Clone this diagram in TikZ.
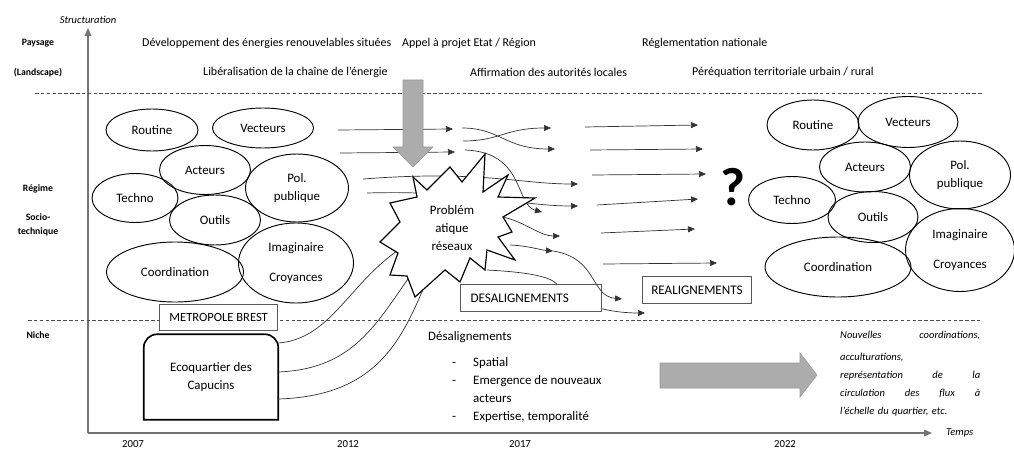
\documentclass[tikz,border=0pt]{standalone}
\usepackage{fontspec}
\setmainfont{Carlito}
\usetikzlibrary{arrows.meta,positioning,shapes.geometric}

\newcommand{\listdash}{\hspace*{0.72cm}\makebox[0.63cm][l]{-}}

\begin{document}
\begin{tikzpicture}[
  x=0.03cm, y=-0.03cm,
  font=\fontsize{11}{16}\selectfont,
  ell/.style 2 args={
    ellipse,
    draw=black,
    line width=0.8pt,
    inner sep=0pt,
    align=center,
    minimum width=#1*0.03cm,
    minimum height=#2*0.03cm
  },
  layer/.style={font=\fontsize{8.3}{12}\selectfont\bfseries, align=center},
  pressure/.style={font=\fontsize{10.2}{12}\selectfont, anchor=west, inner sep=0pt},
  year/.style={font=\fontsize{9.2}{11}\selectfont, inner sep=1pt},
  axislbl/.style={font=\fontsize{9}{11}\selectfont\itshape},
  framed/.style={
    draw=black!65,
    line width=0.7pt,
    fill=white,
    minimum height=0.8cm,
    inner xsep=0.3cm,
    font=\fontsize{11.2}{13}\selectfont
  },
  flow/.style={draw=black!80, line width=0.6pt, -{Triangle[length=2.1mm, width=1.8mm]}},
  link/.style={draw=black!80, line width=0.6pt},
  sep/.style={draw=black!70, line width=0.6pt, dash pattern=on 3pt off 2pt},
  axis/.style={draw=black!55, line width=1pt, -{Triangle[length=2.4mm, width=2mm]}},
  bigarrow/.style={fill=gray!65, draw=gray!80, line width=0.5pt},
  burst/.style={draw=black, line width=1pt, fill=white, line join=miter}
]

\useasboundingbox (0,0) rectangle (1014,452);

% axes
\coordinate (origin) at (88,433);
\coordinate (ytip) at (88,28);
\coordinate (xtip) at (932,433);
\draw[axis] (origin) -- (ytip);
\draw[axis] (origin) -- (xtip);
\node[axislbl, above=0pt of ytip] (ylabel) {Structuration};
\node[axislbl, right=0.3cm of xtip] (xlabel) {Temps};

% levels
\draw[sep] (35,93) -- (982,93);
\draw[sep] (28,320) -- (980,320);

\node[layer] (paysage) at (38,43) {Paysage};
\node[layer] (landscape) at (38,73) {(Landscape)};
\node[layer] (regime) at (38,189) {Régime};
\node[layer] (socio) at (38,225) {Socio-\\technique};
\node[layer] (niche) at (38,335) {Niche};

\node[year] (y2007) at (133,444) {2007};
\node[year] (y2012) at (348,444) {2012};
\node[year] (y2017) at (520,444) {2017};
\node[year] (y2022) at (785,444) {2022};

% landscape
\node[pressure] (enr) at (142,43) {Développement des énergies renouvelables situées};
\node[pressure] (appel) at (402,43) {Appel à projet Etat / Région};
\node[pressure] (regl) at (642,43) {Réglementation nationale};
\node[pressure] (liberal) at (203,72) {Libéralisation de la chaîne de l’énergie};
\node[pressure] (affirm) at (470,72) {Affirmation des autorités locales};
\node[pressure] (perequ) at (692,72) {Péréquation territoriale urbain / rural};

% regime before
\node[ell={92}{42}] (routineL) at (152,130) {Routine};
\node[ell={101}{40}] (vecteursL) at (263,128) {Vecteurs};
\node[ell={91}{49}] (acteursL) at (205,170) {Acteurs};
\node[ell={103}{68}] (polL) at (297,188) {Pol.\\publique};
\node[ell={86}{49}] (technoL) at (135,198) {Techno};
\node[ell={91}{50}] (outilsL) at (215,220) {Outils};
\node[ell={137}{60}] (coordL) at (175,272) {Coordination};
\node[ell={115}{80}] (imagL) at (296,263) {Imaginaire\\[10pt]Croyances};

% regime after
\node[ell={92}{50}] (routineR) at (813,125) {Routine};
\node[ell={100}{51}] (vecteursR) at (908,122) {Vecteurs};
\node[ell={91}{50}] (acteursR) at (865,167) {Acteurs};
\node[ell={101}{68}] (polR) at (960,175) {Pol.\\publique};
\node[ell={87}{47}] (technoR) at (792,200) {Techno};
\node[ell={90}{51}] (outilsR) at (873,217) {Outils};
\node[ell={109}{83}] (imagR) at (960,250) {Imaginaire\\[10pt]Croyances};
\node[ell={146}{60}] (coordR) at (838,267) {Coordination};

\node[font=\fontsize{46}{46}\selectfont\bfseries] (qmark) at (733,187) {?};

% niche
\node[align=center, inner sep=0pt, minimum width=134*0.03cm, minimum height=85*0.03cm] (eco) at (211,377) {Ecoquartier des\\Capucins};
\draw[line width=1.4pt] (eco.south west) -- ([yshift=-0.4cm]eco.north west)
  arc[start angle=180, end angle=90, radius=0.4cm] -- ([xshift=-0.4cm]eco.north east)
  arc[start angle=90, end angle=0, radius=0.4cm] -- (eco.south east) -- cycle;
\node[framed, anchor=south east, font=\fontsize{10.7}{12}\selectfont] (metro) at ([yshift=0.09cm]eco.north east) {METROPOLE BREST};

\node[anchor=north west, inner sep=0pt, align=left, font=\fontsize{11}{15.3}\selectfont] (desallist) at (428,331) {Désalignements\\[7pt]
  \listdash Spatial\\
  \listdash Emergence de nouveaux\\
  \hspace*{1.35cm}acteurs\\
  \listdash Expertise, temporalité};

\node[anchor=north west, inner sep=0pt, text width=4.2cm, align=left, font=\fontsize{9}{15.5}\selectfont\itshape] (outcome) at (840,331) {Nouvelles\hfill coordinations,\\[3pt]
  acculturations,\\
  représentation\hfill de\hfill la\\
  circulation\hfill des\hfill flux\hfill à\\
  l’échelle du quartier, etc.};

\fill[bigarrow] (660,363) -- (800,363) -- (800,353) -- (817,375) -- (800,397) -- (800,388) -- (660,388) -- cycle;

% flows towards the problem
\coordinate (hub) at (452,226);
\draw[link] ([yshift=1.02cm]eco.east) .. controls (345,338) and (355,250) .. (hub);
\draw[link] ([yshift=0.15cm]eco.east) .. controls (378,368) and (385,290) .. (hub);
\draw[link] ([yshift=-0.66cm]eco.east) .. controls (408,395) and (410,300) .. (hub);

\coordinate (in1) at (338,130);
\coordinate (in1e) at (453,129);
\coordinate (in2) at (340,153);
\coordinate (in2e) at (455,152);
\draw[flow] (in1) -- (in1e);
\draw[flow] (in2) -- (in2e);

\coordinate (in3) at (363,179);
\coordinate (in3e) at (578,184);
\coordinate (in4) at (367,193);
\coordinate (in4e) at (578,206);
\draw[flow] (in3) .. controls (480,170) and (520,184) .. (in3e);
\draw[flow] (in4) .. controls (470,190) and (520,206) .. (in4e);

\coordinate (crA) at (462,128);
\coordinate (crAe) at (555,149);
\coordinate (crB) at (463,141);
\coordinate (crBe) at (551,128);
\draw[flow] (crA) .. controls (500,128) and (505,149) .. (crAe);
\draw[flow] (crB) .. controls (500,141) and (505,128) .. (crBe);

\coordinate (arc) at (465,150);
\coordinate (arce) at (542,212);
\draw[flow] (arc) .. controls (525,152) and (515,205) .. (arce);

% the problem
\draw[burst] (413,177) -- (427,190) -- (450,167) -- (462,182) -- (485,154) -- (483,192)
  -- (508,175) -- (498,197) -- (535,198) -- (503,217) -- (512,232) -- (498,237)
  -- (515,260) -- (487,250) -- (485,270) -- (470,258) -- (460,282) -- (445,270)
  -- (415,297) -- (407,276) -- (390,275) -- (398,253) -- (380,242) -- (400,222)
  -- (390,203) -- (417,197) -- cycle;
\node[align=center, font=\fontsize{11}{15.5}\selectfont] (probl) at (452,228) {Problém\\atique\\réseaux};

\fill[bigarrow] (403,80) -- (423,80) -- (423,147) -- (433,147) -- (413,167) -- (393,147) -- (403,147) -- cycle;

% out of the problem
\node[framed, text width=3.63cm, align=left] (desal) at (531,298) {DESALIGNEMENTS};
\node[framed, inner xsep=0.27cm] (realign) at (697,290) {REALIGNEMENTS};

\coordinate (out1) at (503,217);
\coordinate (out1e) at (560,236);
\coordinate (out2) at (510,245);
\coordinate (out2m) at (553,251);
\coordinate (out2e) at (622,299);
\coordinate (out3) at (487,270);
\draw[flow] (out1) .. controls (525,222) and (540,236) .. (out1e);
\draw[flow] (out2) .. controls (530,246) and (540,250) .. (out2m);
\draw[flow] (out2m) .. controls (598,258) and (590,296) .. (out2e);
\draw[link] (out3) .. controls (525,272) and (550,276) .. ([xshift=0.78cm]desal.north);
\coordinate (out4e) at (645,313);
\draw[flow] ([yshift=0.09cm]desal.south east) .. controls (615,312) and (628,313) .. (out4e);

% towards realignment
\coordinate (r1) at (585,127);
\coordinate (r1e) at (698,125);
\coordinate (r2) at (590,150);
\coordinate (r2e) at (703,149);
\coordinate (r3) at (592,175);
\coordinate (r3e) at (706,174);
\coordinate (r4) at (597,205);
\coordinate (r4e) at (698,199);
\coordinate (r5) at (601,233);
\coordinate (r5e) at (695,229);
\coordinate (r6) at (603,264);
\coordinate (r6e) at (717,263);
\draw[flow] (r1) -- (r1e);
\draw[flow] (r2) -- (r2e);
\draw[flow] (r3) -- (r3e);
\draw[flow] (r4) -- (r4e);
\draw[flow] (r5) -- (r5e);
\draw[flow] (r6) -- (r6e);

\end{tikzpicture}
\end{document}
